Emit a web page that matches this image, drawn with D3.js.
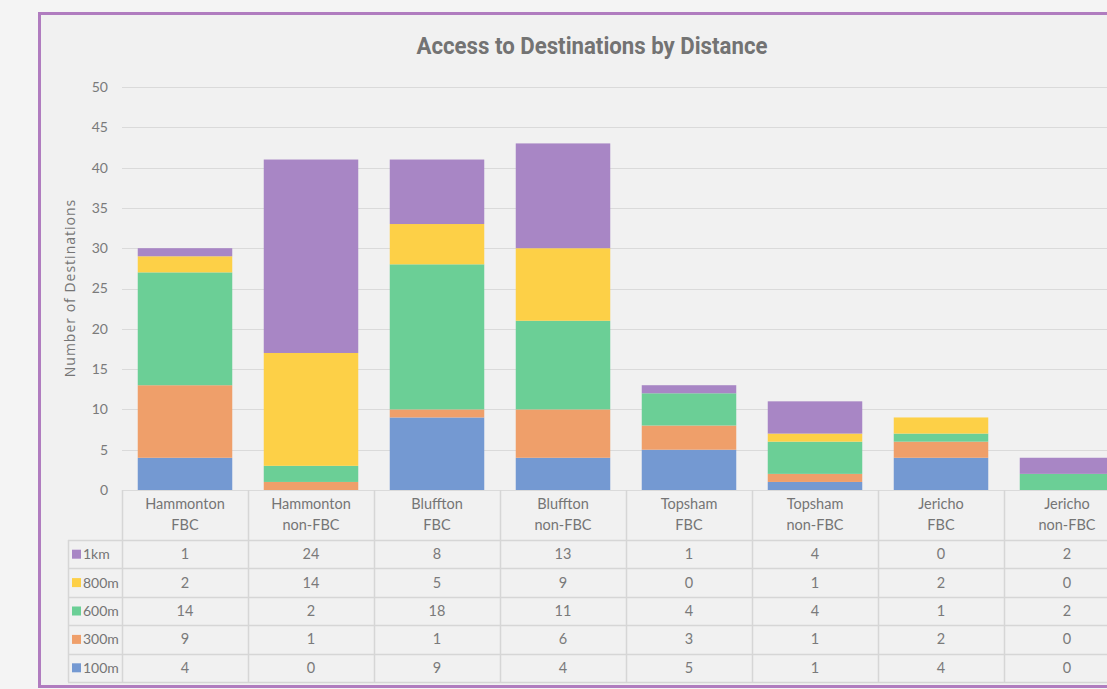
<!DOCTYPE html>
<html>
<head>
<meta charset="utf-8">
<script src="https://cdn.jsdelivr.net/npm/d3@7"></script>
<style>
  body { margin: 0; background: #f4f4f4; overflow: hidden; }
  svg { display: block; font-family: Lato, "Open Sans", sans-serif; }
</style>
</head>
<body>
<div class="chart"></div>
<script>
var svgWidth = 1107;
var svgHeight = 689;

// data
var categories = [
  ["Hammonton", "FBC"], ["Hammonton", "non-FBC"],
  ["Bluffton", "FBC"], ["Bluffton", "non-FBC"],
  ["Topsham", "FBC"], ["Topsham", "non-FBC"],
  ["Jericho", "FBC"], ["Jericho", "non-FBC"]
];
var seriesNames = ["100m", "300m", "600m", "800m", "1km"];
var seriesColors = ["#7499d2", "#ef9f6a", "#6bcf96", "#fdd047", "#a886c5"];
var values100m = [4, 0, 9, 4, 5, 1, 4, 0];
var values300m = [9, 1, 1, 6, 3, 1, 2, 0];
var values600m = [14, 2, 18, 11, 4, 4, 1, 2];
var values800m = [2, 14, 5, 9, 0, 1, 2, 0];
var values1km = [1, 24, 8, 13, 1, 4, 0, 2];
var yTicks = [0, 5, 10, 15, 20, 25, 30, 35, 40, 45, 50];

var seriesValues = [values100m, values300m, values600m, values800m, values1km];

var svg = d3.select(".chart")
  .append("svg")
  .attr("width", svgWidth)
  .attr("height", svgHeight);

// panel frame
svg.append("rect")
  .attr("x", 39.5)
  .attr("y", 13.5)
  .attr("width", 1200)
  .attr("height", 673)
  .attr("fill", "#f1f1f1")
  .attr("stroke", "#b07cbf")
  .attr("stroke-width", 3);

var catKeys = categories.map(c => c.join(" "));

var x = d3.scaleBand()
  .domain(catKeys)
  .range([122, 1130])
  .paddingInner(0.25)
  .paddingOuter(0.125);

var y = d3.scaleLinear()
  .domain([0, 50])
  .range([490, 87]);

// gridlines + tick labels
var grid = svg.append("g");
grid.selectAll("line")
  .data(yTicks)
  .enter()
  .append("line")
  .attr("x1", 122)
  .attr("x2", svgWidth)
  .attr("y1", d => Math.round(y(d)) + 0.5)
  .attr("y2", d => Math.round(y(d)) + 0.5)
  .attr("stroke", "#dadada")
  .attr("stroke-width", 1);

grid.selectAll("text")
  .data(yTicks)
  .enter()
  .append("text")
  .attr("x", 108)
  .attr("y", d => y(d))
  .attr("dy", "0.35em")
  .attr("text-anchor", "end")
  .attr("fill", "#7a7a7a")
  .attr("font-size", 14)
  .text(d => d);

// stacked bars
var rows = catKeys.map(function (k, i) {
  var r = { key: k };
  seriesNames.forEach(function (s, j) { r[s] = seriesValues[j][i]; });
  return r;
});
var stacked = d3.stack().keys(seriesNames)(rows);

svg.append("g")
  .selectAll("g")
  .data(stacked)
  .enter()
  .append("g")
  .attr("fill", (d, i) => seriesColors[i])
  .selectAll("rect")
  .data(d => d)
  .enter()
  .append("rect")
  .attr("x", d => x(d.data.key))
  .attr("width", x.bandwidth())
  .attr("y", d => y(d[1]))
  .attr("height", d => y(d[0]) - y(d[1]));

// title
svg.append("text")
  .attr("x", 592)
  .attr("y", 54)
  .attr("text-anchor", "middle")
  .attr("font-family", "Roboto, sans-serif")
  .attr("font-weight", "bold")
  .attr("font-size", 24)
  .attr("fill", "#737373")
  .attr("textLength", 351)
  .attr("lengthAdjust", "spacingAndGlyphs")
  .text("Access to Destinations by Distance");

// y axis title
svg.append("text")
  .attr("transform", "translate(75, 288) rotate(-90)")
  .attr("text-anchor", "middle")
  .attr("font-family", "'Open Sans', sans-serif")
  .attr("letter-spacing", 1)
  .attr("fill", "#757575")
  .attr("font-size", 14)
  .text("Number of Destinations");

// data table
var step = x.step();
var tableLeft = 122;
var headTop = 490, headBottom = 540;
var rowH = 28.4;
var tableRows = seriesNames.slice().reverse();
var tableBottom = headBottom + rowH * tableRows.length;
var lineColor = "#d6d6d6";
var table = svg.append("g");

// vertical lines
catKeys.forEach(function (k, i) {
  var xx = Math.round(tableLeft + step * i) + 0.5;
  table.append("line")
    .attr("x1", xx).attr("x2", xx)
    .attr("y1", headTop).attr("y2", tableBottom)
    .attr("stroke", lineColor).attr("stroke-width", 1.5);
});
table.append("line")
  .attr("x1", 68.5).attr("x2", 68.5)
  .attr("y1", headBottom).attr("y2", tableBottom)
  .attr("stroke", lineColor).attr("stroke-width", 1.5);

// horizontal lines
d3.range(tableRows.length + 1).forEach(function (r) {
  var yy = Math.round(headBottom + rowH * r) + 0.5;
  table.append("line")
    .attr("x1", 68).attr("x2", svgWidth)
    .attr("y1", yy).attr("y2", yy)
    .attr("stroke", lineColor).attr("stroke-width", 1.5);
});

// header labels
categories.forEach(function (c, i) {
  var cx = x(catKeys[i]) + x.bandwidth() / 2;
  table.append("text")
    .attr("x", cx).attr("y", 509)
    .attr("text-anchor", "middle")
    .attr("fill", "#757575")
    .attr("font-size", 14.5)
    .text(c[0]);
  table.append("text")
    .attr("x", cx).attr("y", 530)
    .attr("text-anchor", "middle")
    .attr("fill", "#757575")
    .attr("font-size", 14.5)
    .text(c[1]);
});

// row labels and values
tableRows.forEach(function (s, r) {
  var j = seriesNames.indexOf(s);
  var cy = headBottom + rowH * r + rowH / 2;
  table.append("rect")
    .attr("x", 72).attr("y", cy - 4.5)
    .attr("width", 9).attr("height", 9)
    .attr("fill", seriesColors[j]);
  table.append("text")
    .attr("x", 83).attr("y", cy)
    .attr("dy", "0.35em")
    .attr("fill", "#757575")
    .attr("font-size", 14)
    .text(s);
  seriesValues[j].forEach(function (v, i) {
    table.append("text")
      .attr("x", x(catKeys[i]) + x.bandwidth() / 2)
      .attr("y", cy)
      .attr("dy", "0.35em")
      .attr("text-anchor", "middle")
      .attr("fill", "#7a7a7a")
      .attr("font-size", 14.5)
      .text(v);
  });
});
</script>
</body>
</html>
